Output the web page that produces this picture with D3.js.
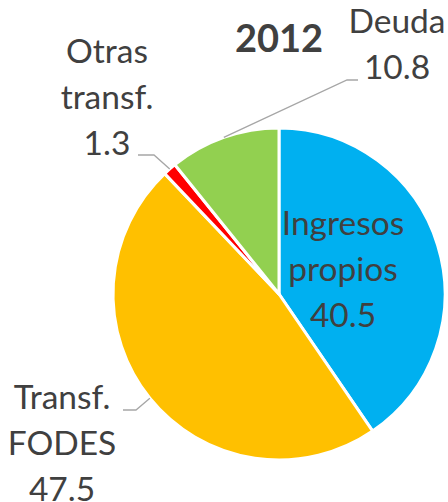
<!DOCTYPE html>
<html>
<head>
<meta charset="utf-8">
<script src="https://cdn.jsdelivr.net/npm/d3@7"></script>
<style>
  body { margin: 0; background: #fff; }
  text { font-family: Lato, "Open Sans", sans-serif; fill: #404040; }
</style>
</head>
<body>
<div id="chart"></div>
<script>
var categories = ["Ingresos propios", "Transf. FODES", "Otras transf.", "Deuda"];
var values = [40.5, 47.5, 1.3, 10.8];
var colors = ["#00B0F0", "#FFC000", "#FF0000", "#92D050"];
var title = "2012";

var width = 448, height = 502;
var cx = 279, cy = 294, radius = 166;

var svg = d3.select("#chart")
  .append("svg")
    .attr("width", width)
    .attr("height", height);

var g = svg.append("g")
    .attr("transform", "translate(" + cx + "," + cy + ")");

var pie = d3.pie().sort(null).value(function(d) { return d; });
var arcs = pie(values);

var arc = d3.arc().innerRadius(0).outerRadius(radius);

g.selectAll("path")
    .data(arcs)
    .enter()
    .append("path")
      .attr("d", arc)
      .attr("fill", function(d, i) { return colors[i]; })
      .attr("stroke", "#fff")
      .attr("stroke-width", 3)
      .attr("stroke-linejoin", "round");

// title
svg.append("text")
  .attr("x", 279)
  .attr("y", 52)
  .attr("text-anchor", "middle")
  .style("font-size", "38px")
  .style("font-weight", "bold")
  .text(title);

// label layout: lines, anchor x, first baseline, leader elbow
var labels = [
  { lines: ["Ingresos", "propios"], x: 343, y: 235 },
  { lines: ["Transf.", "FODES"], x: 62, y: 409, elbow: [[123, 410], [136, 410]] },
  { lines: ["Otras", "transf."], x: 107, y: 63, elbow: [[138, 155], [154, 155]] },
  { lines: ["Deuda"], x: 397, y: 33, elbow: [[358, 80], [347, 80]] }
];

var lineH = 46;

function edgePoint(d) {
  var a = (d.startAngle + d.endAngle) / 2;
  return [cx + radius * Math.sin(a), cy - radius * Math.cos(a)];
}

labels.forEach(function(l, i) {
  var t = svg.append("text")
    .attr("text-anchor", "middle")
    .style("font-size", "33.5px");
  var all = l.lines.concat([d3.format(".1f")(values[i])]);
  all.forEach(function(s, j) {
    t.append("tspan")
      .attr("x", l.x)
      .attr("y", l.y + j * lineH)
      .text(s);
  });
  if (l.elbow) {
    var p = l.elbow.concat([edgePoint(arcs[i])]);
    svg.append("path")
      .attr("d", d3.line()(p))
      .attr("fill", "none")
      .attr("stroke", "#a6a6a6")
      .attr("stroke-width", 1.3);
  }
});
</script>
</body>
</html>
